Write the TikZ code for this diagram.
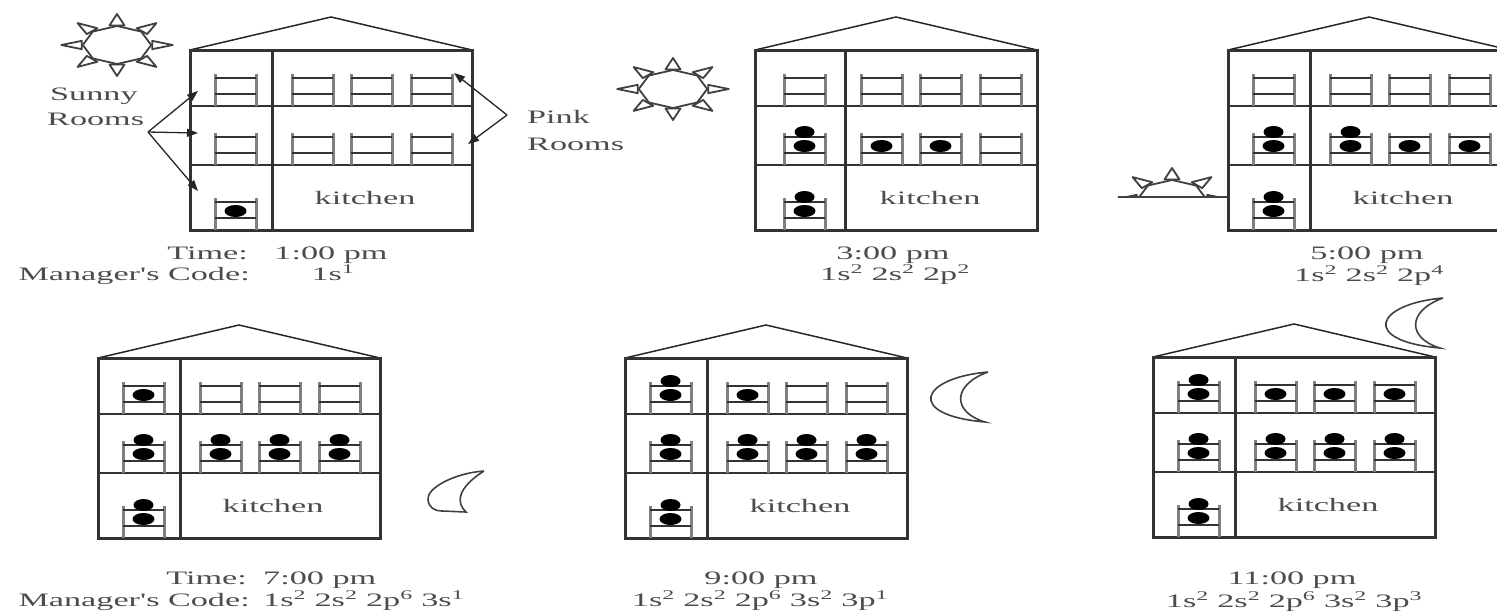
\documentclass[tikz,border=0pt]{standalone}
\usepackage{fontspec}
\usepackage{tikz}
\usetikzlibrary{arrows.meta}
\newfontfamily\lblfont[FakeStretch=1.8]{Liberation Serif}

\tikzset{
  wall/.style={line width=3pt,black!80},
  floorline/.style={line width=2pt,black!80},
  roofline/.style={line width=1.5pt,black!85},
  post/.style={line width=3pt,black!50},
  bar/.style={line width=1.6pt,black!80},
  electron/.style={fill=black},
  sunline/.style={line width=1.8pt,black!75,line join=round},
  moonline/.style={line width=1.6pt,black!75},
  ptr/.style={line width=1.3pt,black!85,-{Triangle[length=11pt,width=8pt]}},
  lbl/.style={text=black!70,inner sep=0pt,font=\lblfont\fontsize{19}{22}\selectfont}
}

% bed: left x, floor y, number of electrons
\newcommand{\drawbed}[3]{%
  \draw[post] (#1,#2-32) -- (#1,#2);
  \draw[post] (#1+41,#2-32) -- (#1+41,#2);
  \draw[bar] (#1,#2-28) -- (#1+41,#2-28);
  \draw[bar] (#1,#2-12) -- (#1+41,#2-12);
  \ifnum#3>0 \fill[electron] (#1+20.5,#2-19) ellipse [x radius=11,y radius=6]; \fi
  \ifnum#3>1 \fill[electron] (#1+20.5,#2-33) ellipse [x radius=10,y radius=6]; \fi
}
% one floor of beds: house x, floor y, electrons per bed
\newcommand{\drawfloor}[6]{%
  \drawbed{#1+25}{#2}{#3}
  \drawbed{#1+102}{#2}{#4}
  \drawbed{#1+161}{#2}{#5}
  \drawbed{#1+221}{#2}{#6}
}
% house: name, top left x, top left y, inner wall offset
\newcommand{\drawhouse}[4]{%
  \draw[roofline] (#2,#3) -- (#2+141,#3-33) -- (#2+282,#3);
  \draw[wall] (#2,#3) rectangle (#2+282,#3+180);
  \draw[wall] (#2+#4,#3) -- (#2+#4,#3+180);
  \draw[floorline] (#2,#3+56) -- (#2+282,#3+56);
  \draw[floorline] (#2,#3+115) -- (#2+282,#3+115);
  \node[lbl,anchor=base] (#1-kitchen) at (#2+175,#3+154) {kitchen};
}
% sun: centre x, centre y
\newcommand{\drawsun}[2]{%
  \begin{scope}[shift={(#1,#2)},xscale=1.8]
    \draw[sunline] (0:19) \foreach \a in {45,90,...,315} {-- (\a:19)} -- cycle;
    \foreach \a in {0,45,...,315}
      \draw[sunline,fill=white] (\a-12:20) -- (\a:31) -- (\a+12:20) -- cycle;
  \end{scope}
}

\begin{document}
\begin{tikzpicture}[x=1pt,y=-1pt]
  \useasboundingbox (0,0) rectangle (1497,614);
  \clip (0,0) rectangle (1497,614);

  % 1:00 pm
  \drawsun{117}{45}
  \drawhouse{h1}{190}{50}{82}
  \drawfloor{190}{106}{0}{0}{0}{0}
  \drawfloor{190}{165}{0}{0}{0}{0}
  \drawbed{215}{230}{1}
  \node[lbl,anchor=base west] (sunny) at (50,100) {Sunny};
  \node[lbl,anchor=base west] (rooms) at (47,125) {Rooms};
  \coordinate (sr) at (148,132);
  \coordinate (sr1) at (198,91);
  \coordinate (sr2) at (198,133);
  \coordinate (sr3) at (198,191);
  \draw[ptr] (sr) -- (sr1);
  \draw[ptr] (sr) -- (sr2);
  \draw[ptr] (sr) -- (sr3);
  \node[lbl,anchor=base west] (pink) at (527,123) {Pink};
  \node[lbl,anchor=base west] (pinkrooms) at (527,150) {Rooms};
  \coordinate (pr) at (507,115);
  \coordinate (pr1) at (454,73);
  \coordinate (pr2) at (468,144);
  \draw[ptr] (pr) -- (pr1);
  \draw[ptr] (pr) -- (pr2);
  \node[lbl,anchor=base east] (h1-time) at (248,259) {Time:};
  \node[lbl,anchor=base] (h1-clock) at (331,259) {1:00 pm};
  \node[lbl,anchor=base east] (h1-mgr) at (250,280) {Manager's Code:};
  \node[lbl,anchor=base] (h1-code) at (333,280) {1s\textsuperscript{1}};

  % 3:00 pm
  \drawsun{673}{89}
  \drawhouse{h2}{755}{50}{90}
  \drawfloor{759}{106}{0}{0}{0}{0}
  \drawfloor{759}{165}{2}{1}{1}{0}
  \drawbed{784}{230}{2}
  \node[lbl,anchor=base] (h2-clock) at (893,259) {3:00 pm};
  \node[lbl,anchor=base] (h2-code) at (895,280)
    {1s\textsuperscript{2} 2s\textsuperscript{2} 2p\textsuperscript{2}};

  % 5:00 pm
  \begin{scope}
    \clip (1100,140) rectangle (1228,197);
    \drawsun{1172}{199}
  \end{scope}
  \draw[sunline] (1118,197) -- (1228,197);
  \drawhouse{h3}{1228}{50}{82}
  \drawfloor{1228}{106}{0}{0}{0}{0}
  \drawfloor{1228}{165}{2}{2}{1}{1}
  \drawbed{1253}{230}{2}
  \node[lbl,anchor=base] (h3-clock) at (1367,259) {5:00 pm};
  \node[lbl,anchor=base] (h3-code) at (1369,281)
    {1s\textsuperscript{2} 2s\textsuperscript{2} 2p\textsuperscript{4}};

  % 7:00 pm
  \drawhouse{h4}{98}{358}{82}
  \drawfloor{98}{414}{1}{0}{0}{0}
  \drawfloor{98}{473}{2}{2}{2}{2}
  \drawbed{123}{538}{2}
  \draw[moonline] (484,471) .. controls (455,473) and (426,488) .. (428,500)
    .. controls (429,508) and (435,511) .. (442,511) -- (466,512)
    .. controls (456,503) and (457,488) .. (484,471);
  \node[lbl,anchor=base east] (h4-time) at (247,584) {Time:};
  \node[lbl,anchor=base west] (h4-clock) at (263,584) {7:00 pm};
  \node[lbl,anchor=base east] (h4-mgr) at (250,606) {Manager's Code:};
  \node[lbl,anchor=base west] (h4-code) at (263,606)
    {1s\textsuperscript{2} 2s\textsuperscript{2} 2p\textsuperscript{6} 3s\textsuperscript{1}};

  % 9:00 pm
  \drawhouse{h5}{625}{358}{82}
  \drawfloor{625}{414}{2}{1}{0}{0}
  \drawfloor{625}{473}{2}{2}{2}{2}
  \drawbed{650}{538}{2}
  \draw[moonline] (988,372) .. controls (920,378) and (905,415) .. (985,422)
    .. controls (952,412) and (952,385) .. (988,372);
  \node[lbl,anchor=base] (h5-clock) at (761,584) {9:00 pm};
  \node[lbl,anchor=base] (h5-code) at (760,606)
    {1s\textsuperscript{2} 2s\textsuperscript{2} 2p\textsuperscript{6} 3s\textsuperscript{2} 3p\textsuperscript{1}};

  % 11:00 pm
  \drawhouse{h6}{1153}{357}{82}
  \drawfloor{1153}{413}{2}{1}{1}{1}
  \drawfloor{1153}{472}{2}{2}{2}{2}
  \drawbed{1178}{537}{2}
  \draw[moonline] (1443,298) .. controls (1375,304) and (1360,341) .. (1440,348)
    .. controls (1407,338) and (1407,311) .. (1443,298);
  \node[lbl,anchor=base] (h6-clock) at (1292,584) {11:00 pm};
  \node[lbl,anchor=base] (h6-code) at (1294,607)
    {1s\textsuperscript{2} 2s\textsuperscript{2} 2p\textsuperscript{6} 3s\textsuperscript{2} 3p\textsuperscript{3}};
\end{tikzpicture}
\end{document}
